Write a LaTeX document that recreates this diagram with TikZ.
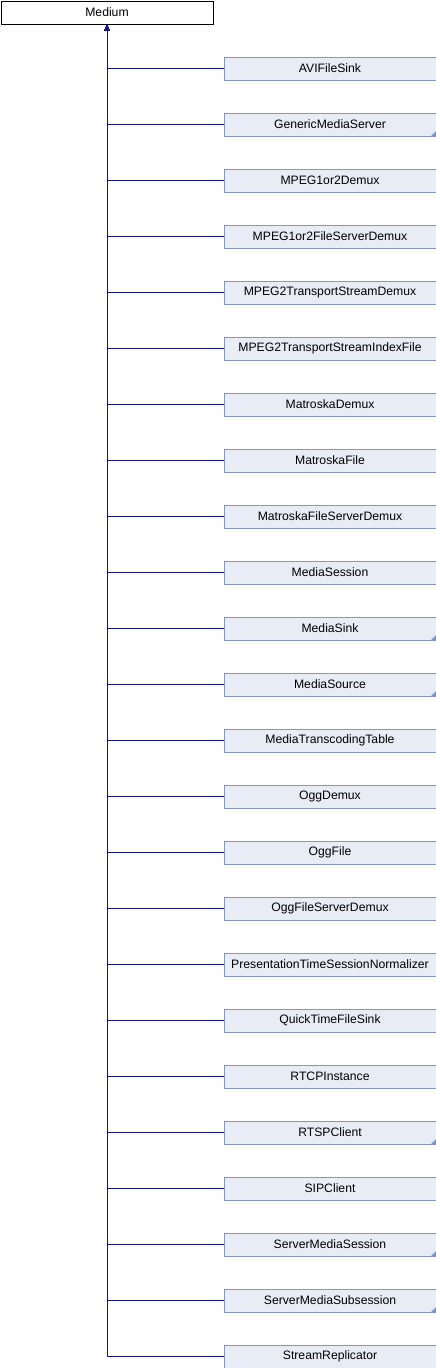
\documentclass[tikz,border=0pt]{standalone}
\usepackage{fontspec}
\setmainfont{Liberation Sans}
\usetikzlibrary{arrows.meta}
\definecolor{edgecol}{RGB}{20,20,140}
\definecolor{boxfill}{RGB}{232,236,245}
\definecolor{boxline}{RGB}{132,150,196}
\tikzset{
  base/.style={draw=black, fill=white, line width=1pt, minimum width=212pt, minimum height=23pt, inner sep=0pt, font=\fontsize{12.2}{14}\selectfont, anchor=north west},
  cls/.style={draw=boxline, fill=boxfill, line width=1pt, minimum width=212pt, minimum height=23pt, inner sep=0pt, font=\fontsize{12.2}{14}\selectfont, anchor=north west},
  edge/.style={draw=edgecol, line width=1pt, {Triangle[length=6pt,width=5pt]}-},
  more/.style={path picture={\fill[boxline] (path picture bounding box.south east) -- ++(-5pt,0) -- ++(5pt,5pt) -- cycle;}}
}
\begin{document}
\begin{tikzpicture}[x=1pt,y=-1pt]
\useasboundingbox (0,0) rectangle (436,1368);
\node[base] (med) at (0.5,0.5) {Medium};
\foreach \name/\lab/\m [count=\i from 0] in {
  c0/AVIFileSink/0, c1/GenericMediaServer/1, c2/MPEG1or2Demux/0, c3/MPEG1or2FileServerDemux/0,
  c4/MPEG2TransportStreamDemux/0, c5/MPEG2TransportStreamIndexFile/0, c6/MatroskaDemux/0,
  c7/MatroskaFile/0, c8/MatroskaFileServerDemux/0, c9/MediaSession/0, c10/MediaSink/1,
  c11/MediaSource/1, c12/MediaTranscodingTable/0, c13/OggDemux/0, c14/OggFile/0,
  c15/OggFileServerDemux/0, c16/PresentationTimeSessionNormalizer/0, c17/QuickTimeFileSink/0,
  c18/RTCPInstance/0, c19/RTSPClient/1, c20/SIPClient/0, c21/ServerMediaSession/1,
  c22/ServerMediaSubsession/1, c23/StreamReplicator/0}
{
  \ifnum\m=1
    \node[cls, more] (\name) at (223.5, 56.5+56*\i) {\lab};
  \else
    \node[cls] (\name) at (223.5, 56.5+56*\i) {\lab};
  \fi
  \draw[edge] (med.south) |- (\name.west);
}
\end{tikzpicture}
\end{document}
